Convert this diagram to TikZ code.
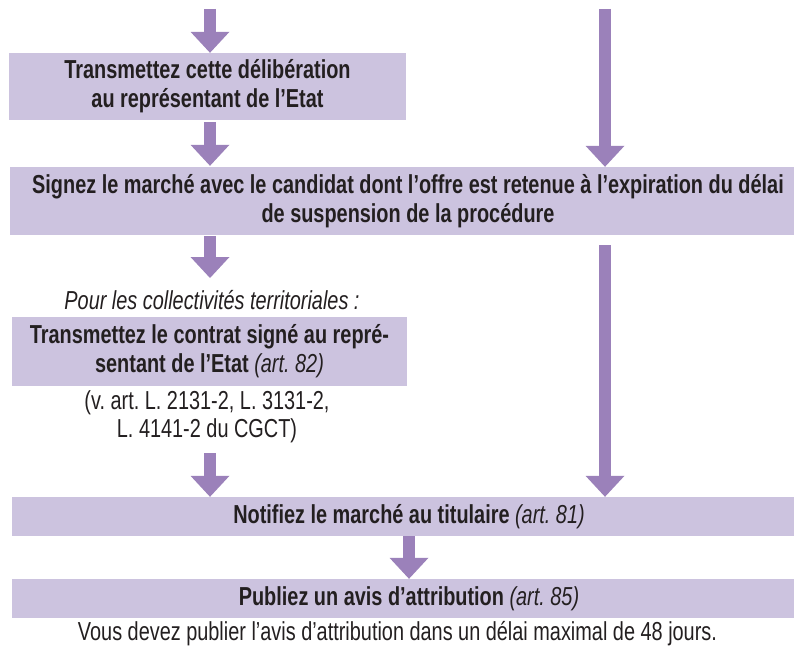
\documentclass[tikz,border=0pt]{standalone}
\usepackage{fontspec}
\setmainfont{Liberation Sans}[FakeStretch=0.765]
\usetikzlibrary{arrows.meta}
\definecolor{boxc}{HTML}{CCC3DF}
\definecolor{arrowc}{HTML}{9B81BA}
\definecolor{txt}{HTML}{231F20}
\begin{document}
\frenchspacing
\begin{tikzpicture}[x=1pt,y=1pt,
  box/.style={fill=boxc, inner sep=0pt, align=center, text=txt,
    font=\fontsize{26}{29}\selectfont\bfseries},
  flow/.style={draw=arrowc, line width=12pt,
    -{Triangle[width=39pt,length=21pt,line width=0pt]}},
  plain/.style={text=txt, align=center, inner sep=0pt,
    font=\fontsize{26}{28}\selectfont}]
\useasboundingbox (0,0) rectangle (794,-652);

\node[box, minimum width=397pt, minimum height=67pt] (b1) at (207.5,-86.5)
  {Transmettez cette délibération\\au représentant de l’Etat};
\node[box, minimum width=796pt, minimum height=68pt] (b2) at (408,-201)
  {Signez le marché avec le candidat dont l’offre est retenue à l’expiration du délai\\de suspension de la procédure};
\node[plain, font=\fontsize{26}{28}\selectfont\itshape] (pour) at (212,-300)
  {Pour les collectivités territoriales :};
\node[box, minimum width=395pt, minimum height=69pt] (b3) at (209.5,-351.5)
  {Transmettez le contrat signé au repré-\\sentant de l’Etat {\mdseries\itshape (art. 82)}};
\node[plain] (cgct) at (207,-417)
  {(v. art. L. 2131-2, L. 3131-2,\\L. 4141-2 du CGCT)};
\node[box, minimum width=794pt, minimum height=39pt] (b4) at (409,-516.5)
  {Notifiez le marché au titulaire {\mdseries\itshape (art. 81)}};
\node[box, minimum width=794pt, minimum height=39pt] (b5) at (409,-598.5)
  {Publiez un avis d’attribution {\mdseries\itshape (art. 85)}};
\node[plain] (note) at (397.5,-634)
  {Vous devez publier l’avis d’attribution dans un délai maximal de 48 jours.};

\coordinate (tl) at (210,-9);
\coordinate (tr) at (605,-9);
\coordinate (l3) at (210,-278);
\coordinate (mr) at (605,-245);
\coordinate (l4) at (210,-453);

\draw[flow] (tl) -- (tl |- b1.north);
\draw[flow, shorten <=2pt, shorten >=1pt] (tl |- b1.south) -- (tl |- b2.north);
\draw[flow] (tr) -- (tr |- b2.north);
\draw[flow, shorten <=1pt] (tl |- b2.south) -- (l3);
\draw[flow] (mr) -- (mr |- b4.north);
\draw[flow] (l4) -- (l4 |- b4.north);
\draw[flow] (b4.south) -- (b5.north);
\end{tikzpicture}
\end{document}
